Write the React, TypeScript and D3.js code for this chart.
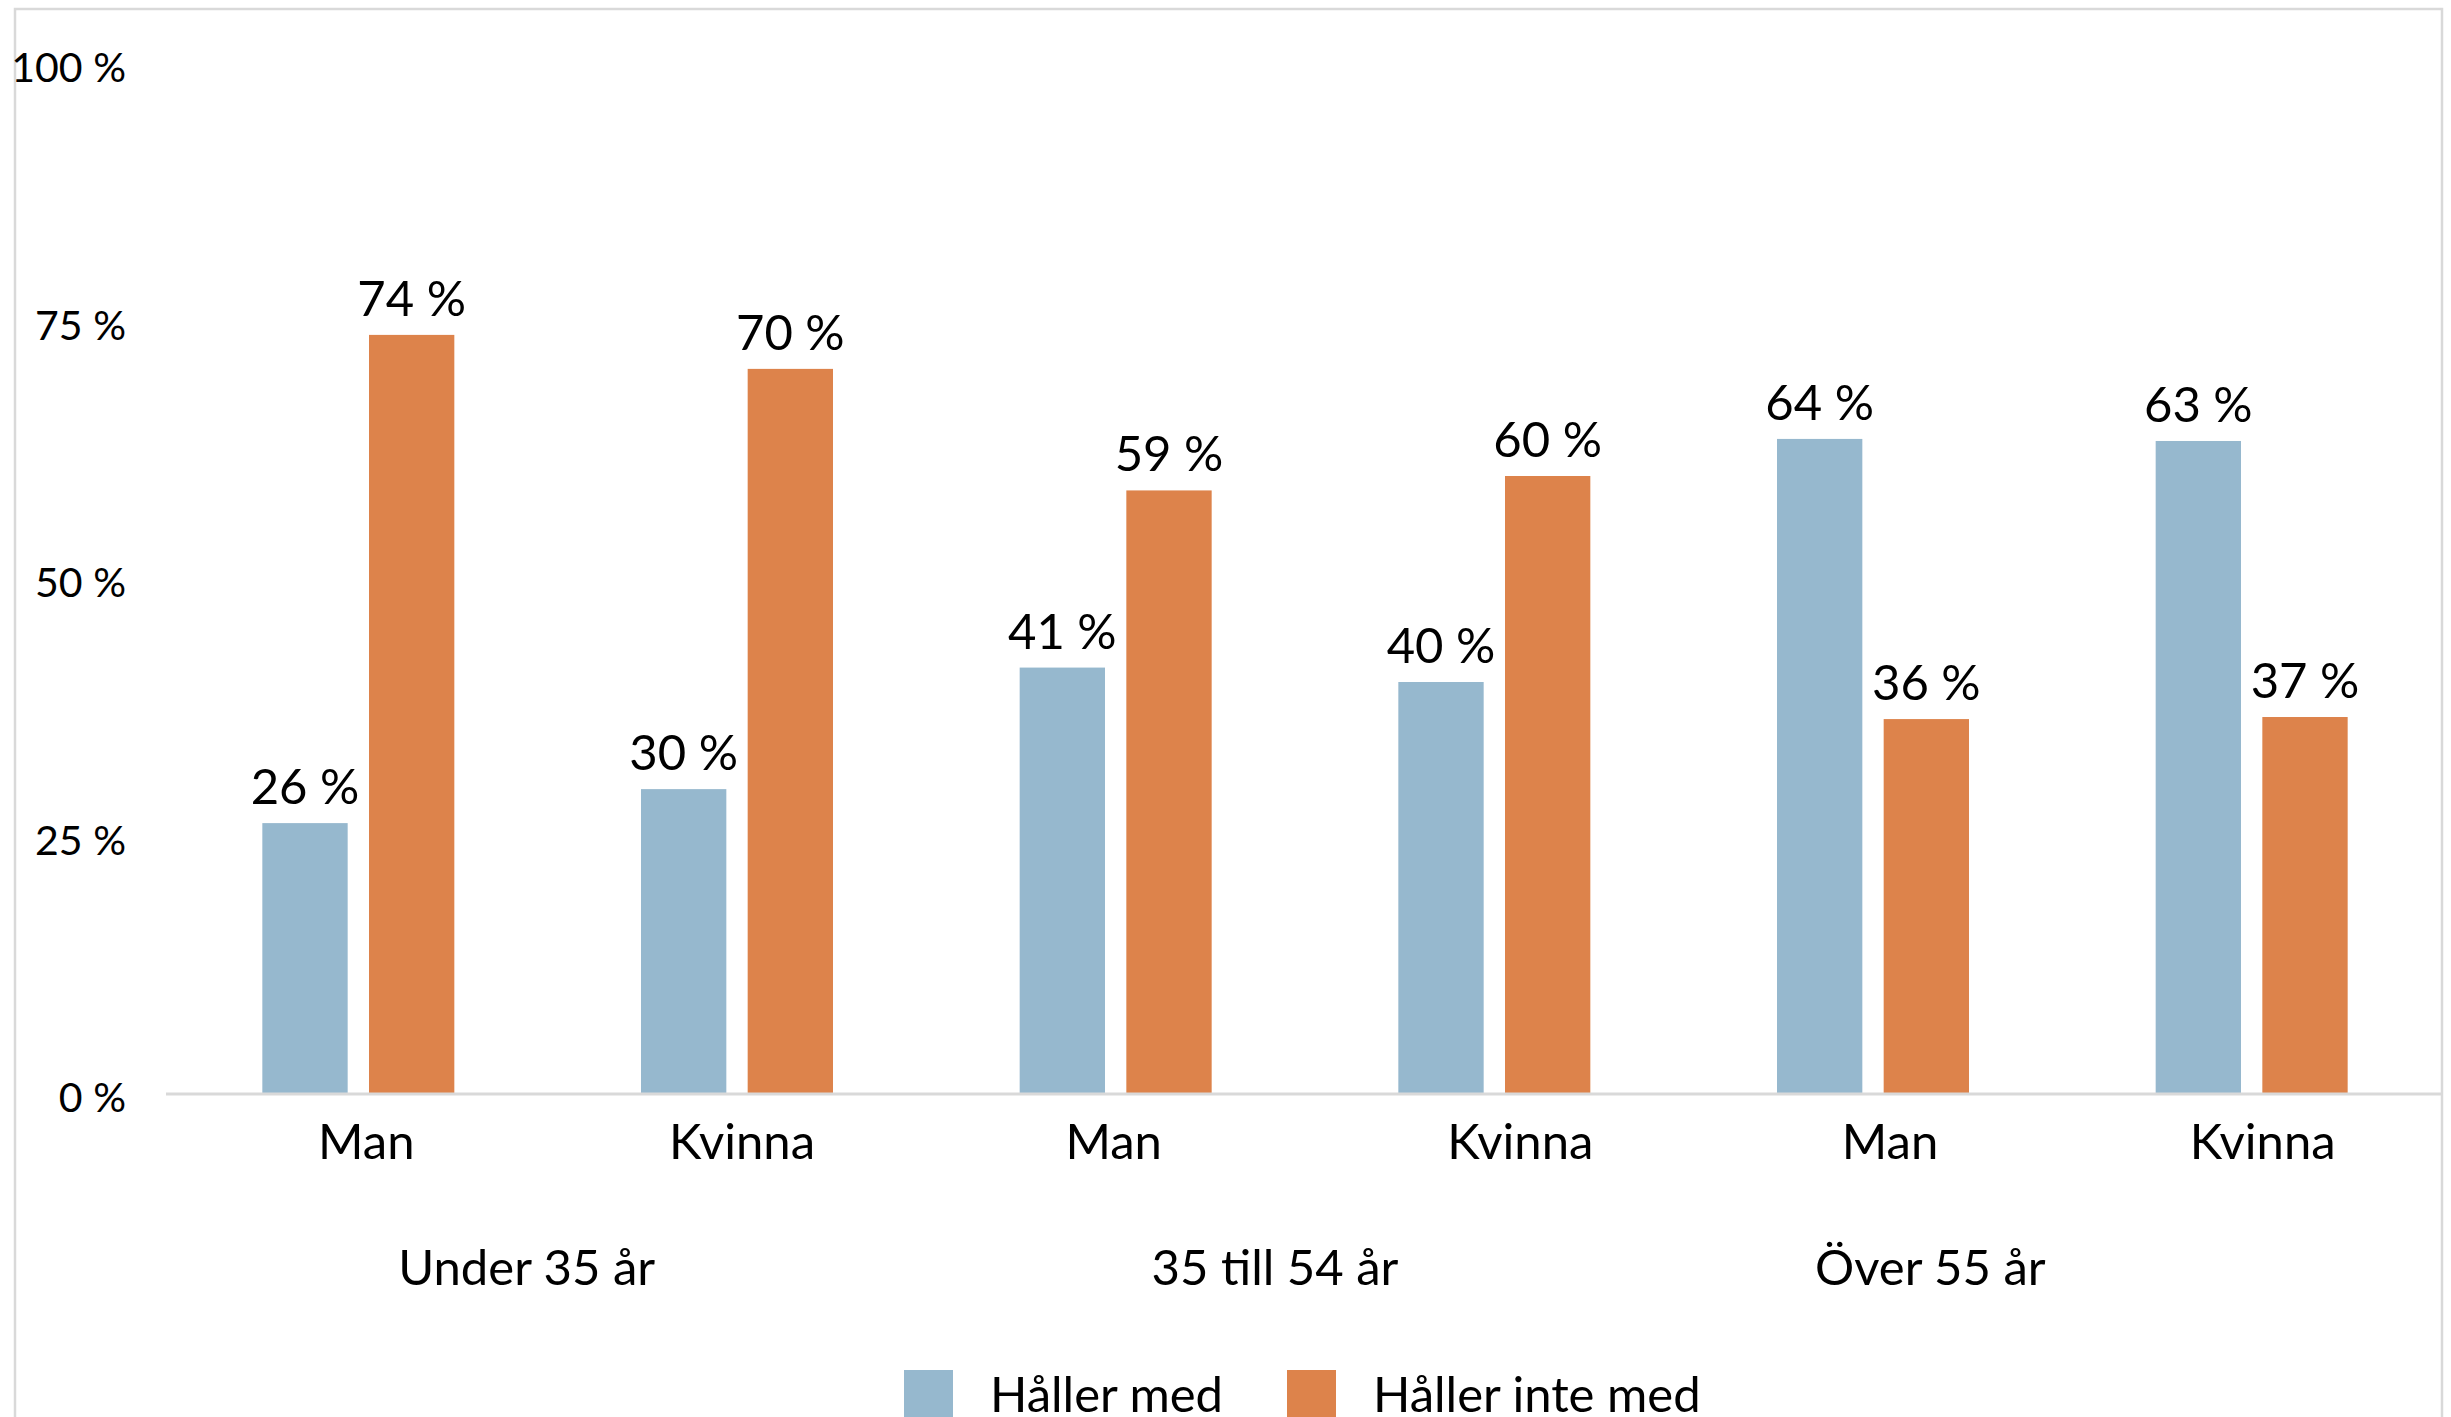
import React from "react";
import * as d3 from "d3";

const categories = ["Man", "Kvinna", "Man", "Kvinna", "Man", "Kvinna"];
const groups = ["Under 35 år", "35 till 54 år", "Över 55 år"];
const seriesNames = ["Håller med", "Håller inte med"];
const hallerMed = [26.3, 29.6, 41.4, 40.0, 63.6, 63.4];
const hallerInteMed = [73.7, 70.4, 58.6, 60.0, 36.4, 36.6];
const valueLabelsMed = ["26 %", "30 %", "41 %", "40 %", "64 %", "63 %"];
const valueLabelsInte = ["74 %", "70 %", "59 %", "60 %", "36 %", "37 %"];
const yTicks = [0, 25, 50, 75, 100];

const COLORS = ["#96b8ce", "#dd834b"];
const W = 2451;
const H = 1417;
const FONT = "Lato, 'Open Sans', sans-serif";
const GROUP_LABEL_DX = [-21, -30, -132];
const CAT_LABEL_DX = [8, 5, -2, 26, 17, 11];

export default function App() {
  const plotLeft = 169;
  const plotRight = 2441;
  const y0 = 1094;
  const y100 = 64;

  const x = d3
    .scaleBand<number>()
    .domain(d3.range(categories.length))
    .range([plotLeft, plotRight])
    .paddingInner(0)
    .paddingOuter(0);
  const xs = d3.scaleBand<number>().domain([0, 1]).range([-96, 96]).paddingInner(0.2);
  const y = d3.scaleLinear().domain([0, 100]).range([y0, y100]);

  const series = [
    { values: hallerMed, labels: valueLabelsMed },
    { values: hallerInteMed, labels: valueLabelsInte },
  ];

  const center = (i: number) => (x(i) as number) + x.bandwidth() / 2;

  const legendX = [904, 1287];

  return (
    <svg
      width={W}
      height={H}
      style={{ position: "absolute", left: 0, top: 0, background: "#fff" }}
      fontFamily={FONT}
    >
      <rect x={0} y={0} width={W} height={H} fill="#fff" />
      <rect x={15} y={9} width={2427} height={H + 20} fill="none" stroke="#d9d9d9" strokeWidth={2.5} />

      {yTicks.map((t) => (
        <text key={t} x={126} y={y(t) + 18} textAnchor="end" fontSize={41} fill="#000">
          {t} %
        </text>
      ))}

      {series.map((s, si) =>
        s.values.map((v, i) => {
          const bx = center(i) + (xs(si) as number);
          return (
            <g key={`${si}-${i}`}>
              <rect x={bx} y={y(v)} width={xs.bandwidth()} height={y(0) - y(v)} fill={COLORS[si]} />
              <text
                x={bx + xs.bandwidth() / 2}
                y={y(v) - 19}
                textAnchor="middle"
                fontSize={49}
                fill="#000"
              >
                {s.labels[i]}
              </text>
            </g>
          );
        })
      )}

      <line x1={166} x2={2442} y1={y0} y2={y0} stroke="#d9d9d9" strokeWidth={3} />

      {categories.map((c, i) => (
        <text key={i} x={center(i) + CAT_LABEL_DX[i]} y={1159} textAnchor="middle" fontSize={49} fill="#000">
          {c}
        </text>
      ))}

      {groups.map((g, gi) => {
        const gc = (center(gi * 2) + center(gi * 2 + 1)) / 2 + GROUP_LABEL_DX[gi];
        return (
          <text key={g} x={gc} y={1285} textAnchor="middle" fontSize={49} fill="#000">
            {g}
          </text>
        );
      })}

      {seriesNames.map((n, si) => (
        <g key={n}>
          <rect x={legendX[si]} y={1370} width={49} height={49} fill={COLORS[si]} />
          <text x={legendX[si] + 86} y={1412} fontSize={49} fill="#000">
            {n}
          </text>
        </g>
      ))}
    </svg>
  );
}
